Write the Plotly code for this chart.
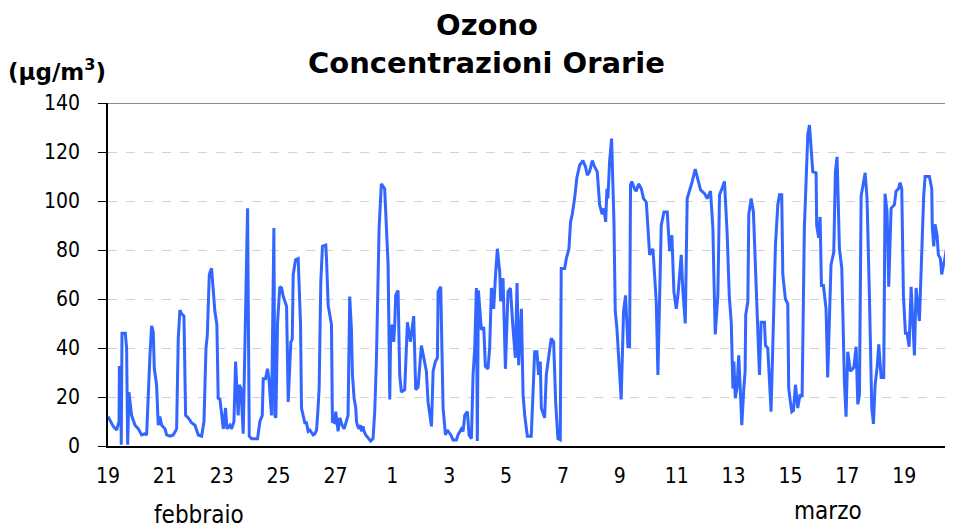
import datetime as dt
import plotly.graph_objects as go

# ---- data ----
start = dt.datetime(2009, 2, 19, 0, 0)

hours = [
    0, 4.5, 7.3, 9.3, 9.6, 10.7, 11.2, 11.8, 13.5, 14.6, 15.7, 16.6, 17.7, 19.9, 22.8, 25.6, 28.4, 31.2, 32.6, 34,
    35.4, 36.8, 38.2, 39.1, 41, 42.4, 43.8, 45.3, 48.1, 49.5, 52.3, 55.1, 57.9, 59.3, 60.7, 62.1, 64.1, 65.5, 67.7, 70.5,
    73.4, 76.2, 79, 81, 81.8, 82.7, 83.8, 84.6, 85.5, 87.4,
    90.2, 91.9, 92.5, 93, 94.5, 95.9, 97.3, 99.2, 100.4, 102.9, 104.3, 106.3, 107.7, 109.1, 109.9, 110.8, 112.2, 114.1,
    117.8, 119.2, 121.2, 124, 126.2, 128.2, 130.2, 131, 133, 134.6, 135.8, 138, 140, 140.8, 141.7, 143.1, 145, 146.5,
    147.9, 150.7, 152.1, 154.3, 155.5, 156.3, 158.3, 160.5, 162.5, 163.3, 164.7, 166.1, 167.5, 168.9, 170.3, 173.2, 174.6,
    176, 177.1, 178.2, 179.6, 181, 183.8, 184.4, 185.8, 188.6, 189.4, 191.4, 192.2, 194.2, 195.6, 197.6, 199.3, 201.2,
    202.6, 204, 205.4, 206.3, 207.7, 209.1, 209.7, 210.5, 211.6, 213, 213.9, 215.3, 216.1, 217.5, 220.3, 221.7, 223.7,
    225.1, 226.5, 228.8, 230.7, 233.5, 236.4, 237.8, 238.6, 240, 241.1, 242, 242.8, 244.8, 246.2, 247.6, 250.4, 252.7,
    255.2, 258, 259.7, 261.7, 264.5,
    268.7, 270.1, 273, 274.4, 276.3, 278, 278.6, 280.8, 282.8, 284.8, 286.4, 289.3, 291.2, 294, 295.4, 298.3, 299.7,
    301.1, 303.3, 304.7, 306.7, 308.1, 309.5, 310.9, 311.7, 312.6, 315.1, 317.1, 318.5, 320.7, 322.1, 323.6, 325.5,
    327.2, 328.6, 330.6, 331.4, 333.4, 335.4, 337.6, 339.6, 341.8, 343.8, 345.2, 346.6, 348.9, 350.3, 351.7, 353.9,
    357.2, 358.1, 360.1, 362, 363.4, 364.8, 365.7, 368.5, 369.9, 372.1, 374.1, 376.1, 377.8, 379.7, 381.7, 382.5,
    385.4, 386.8, 389, 390.4, 391.8, 393.8, 395.7, 398, 400.8, 403, 404.5, 406.4, 408.7, 410.6, 412.9, 414.9, 417.1,
    418.5, 420, 421.1, 421.9, 423.3, 425, 427, 428.1, 429.5, 433.1, 435.1, 436.8, 438.8, 440.2, 441, 442.1,
    444.4, 445.8, 447.8, 450.1, 452, 454.3, 455.7, 457.1, 459.9, 461.3, 462.7, 464.1, 465.5, 466.9, 469.2, 472, 474,
    475.9, 477.6, 479.6, 481, 483.8, 485.2, 487.2, 488.8, 490.8, 493.1, 495.6, 497.3, 500.1, 503.5, 505.7, 508.5,
    510.5, 511.3, 512.5, 514.7, 516.1, 518.1, 520.3, 522.6, 524.3, 526, 527.4,
    528.2, 529.4, 530.8, 532.3, 533.8, 534.9, 536.6, 537.7, 538.2, 540, 540.8, 542.8, 544.7, 546.4, 547.5, 549.8,
    551.2, 554, 554.9, 556.8, 559.6, 563.3, 565.3, 566.7, 568.6, 569.5, 571.7, 573.7, 574.5, 575.9, 577.1, 578.5,
    580.2, 582.1, 584.1, 585.8, 587.7, 590.6, 592, 594.8, 597.6, 598.1, 599.8, 601, 602.1, 603.8, 606, 607.4, 610.2,
    612.5, 613, 613.9, 615.3,
    616.2, 617.3, 619.3, 621.5, 622.9, 624.3, 626.6, 629.4, 631.4, 632.8, 634.2, 635, 635.6, 639, 640.6, 642.6, 644.6,
    646, 647.4, 649.1, 650.5, 652.5, 654.7, 655.8, 657.5, 658.9, 660.9, 663.7, 665.1, 667.1, 668.5, 669.9, 671.3, 673,
    674.4, 676.1, 677.8, 680.6, 682, 684.8, 686.7, 687.6, 688.4, 689.6, 693.2, 695.2, 695.7, 696.9, 698, 699.7, 700.8,
    702.5, 703.6, 705.3, 705.9, 707.8, 709.2, 710.1, 712.1,
]

ozone = [
    12, 8, 6.5, 10, 32, 32, 0.5, 46, 46, 46, 40, 0.5, 22, 12.5, 8.5, 7, 4.5, 5, 4.5, 25,
    37, 49, 46.5, 31.5, 25, 8.5, 12, 8.5, 7, 4.5, 4, 4.5, 7, 44, 55.5, 54, 53, 12.5, 11.5, 9.5,
    8.5, 4.5, 4, 10, 27.5, 40, 45, 56, 70, 72.5,
    55, 49.5, 37, 19.5, 19, 11.5, 7, 15.5, 7, 8.5, 7, 10, 34.5, 19.5, 12.5, 25, 23.5, 5,
    97, 4, 3, 3, 3, 10, 12.5, 27.5, 27.5, 31.5, 27.5, 12.5, 89, 12.5, 11.5, 50.5, 65, 64.5,
    61, 57, 18, 42.5, 43.5, 70, 76, 76.5, 49.5, 15.5, 12.5, 9.5, 9.5, 6, 6.5, 4.5, 5,
    6.5, 14, 23.5, 67, 81.5, 82, 76.5, 57.5, 49.5, 10, 9.5, 14, 6, 11.5, 8.5, 7, 10,
    12.5, 61, 48, 29, 19.5, 15.5, 10, 8.5, 7, 8.5, 6, 8, 6, 4.5, 3, 2, 3,
    14, 34.5, 89, 107, 105, 74, 19, 47.5, 49.5, 42.5, 49.5, 61.5, 63.5, 29, 22, 23, 50.5,
    42.5, 53, 23, 24, 41,
    30.5, 18, 8, 30.5, 34.5, 36, 63, 65, 15.5, 4.5, 6.5, 4.5, 2.5, 2.5, 4.5, 7, 6,
    12.5, 14, 4.5, 3, 29, 40, 64.5, 2, 63.5, 47.5, 48.5, 32.5, 31.5, 40, 64.5, 56,
    71, 80.5, 71, 59, 68.5, 31.5, 63, 64.5, 48, 36, 66.5, 33, 56, 21, 12.5, 4,
    4, 16.5, 38.5, 38.5, 29, 34.5, 15.5, 11.5, 29, 37, 44, 42.5, 18, 3, 2.5, 72.5,
    72.5, 76.5, 80.5, 91.5, 94.5, 101, 109.5, 114.5, 116.5, 114, 110.5, 112, 116.5, 114, 112, 98.5, 94.5,
    97, 91.5, 105, 101, 116, 125.5, 91.5, 55, 48, 19, 55, 61.5, 40.5, 40.5, 106.5, 108,
    105, 104, 107, 105, 101, 99.5, 89, 78, 80.5, 67, 59, 29, 61.5, 90, 95.5, 95.5, 79.5,
    86, 63, 56, 61.5, 78, 63, 50, 101, 104, 108, 113, 109.5, 104.5, 103, 101, 104,
    89, 70, 45.5, 61.5, 102.5, 105, 108, 86, 61.5, 50.5, 23.5,
    34.5, 19.5, 23.5, 37, 21, 8.5, 23.5, 30.5, 53.5, 59, 94.5, 101, 95.5, 70, 59, 29,
    50.5, 50.5, 41, 40, 14, 82, 98.5, 102.5, 102.5, 70, 60, 58, 23.5, 18, 14, 14.5,
    25, 15.5, 21, 20, 89, 127, 131, 112, 111.5, 90, 85, 93.5, 65.5, 65.5, 56, 28, 74,
    79, 99.5, 112, 118,
    102, 80.5, 72.5, 26, 12, 38.5, 30.5, 32, 40.5, 17, 21, 69.5, 102, 111.5, 101, 61.5, 15.5,
    9, 25, 32, 41.5, 28, 28, 103, 95.5, 65, 97, 98.5, 104, 105, 107.5, 105, 61.5, 46,
    46, 40.5, 65, 37, 64.5, 51, 82.5, 93, 102, 110, 110, 105, 89, 81.5, 90.5, 86, 78,
    76.5, 70, 74.5, 75.5, 81, 81.5, 86, 87.5,
]

tick_dates = ["2009-02-19", "2009-02-21", "2009-02-23", "2009-02-25", "2009-02-27",
              "2009-03-01", "2009-03-03", "2009-03-05", "2009-03-07", "2009-03-09",
              "2009-03-11", "2009-03-13", "2009-03-15", "2009-03-17", "2009-03-19"]
tick_labels = ["19", "21", "23", "25", "27", "1", "3", "5", "7", "9",
               "11", "13", "15", "17", "19"]
y_ticks = [0, 20, 40, 60, 80, 100, 120, 140]

times = [start + dt.timedelta(hours=h) for h in hours]

TICK_FONT = dict(family="DejaVu Sans Condensed, DejaVu Sans, sans-serif", size=21, color="#000000")

fig = go.Figure()
fig.add_trace(go.Scatter(
    x=times, y=ozone, mode="lines",
    line=dict(color="#3366FF", width=3),
    hoverinfo="x+y", showlegend=False,
))

# the page body has an 8px margin, so the margins compensate for it
fig.update_layout(
    width=953, height=529,
    margin=dict(l=100, r=9, t=95, b=91),
    paper_bgcolor="#FFFFFF", plot_bgcolor="#FFFFFF",
    showlegend=False,
    xaxis=dict(
        type="date",
        range=[start, start + dt.timedelta(hours=712.3)],
        tickmode="array", tickvals=tick_dates, ticktext=tick_labels,
        ticks="outside", ticklen=10, tickcolor="rgba(0,0,0,0)",
        tickfont=TICK_FONT,
        showgrid=False, zeroline=False,
        showline=True, linecolor="#000000", linewidth=2,
    ),
    yaxis=dict(
        range=[0, 140], tickmode="array", tickvals=y_ticks,
        ticks="outside", ticklen=8, tickcolor="#000000", tickwidth=1,
        ticklabelstandoff=14,
        tickfont=TICK_FONT,
        showgrid=True, gridcolor="#D3D3D3", griddash="dash", gridwidth=1,
        zeroline=False,
        showline=True, linecolor="#000000", linewidth=1.5,
    ),
)

# top border of the plot area (grey solid line at 140)
fig.add_shape(type="line", xref="paper", yref="y", x0=0, x1=1, y0=140, y1=140,
              line=dict(color="#8C8C8C", width=2))

TITLE_FONT = dict(family="DejaVu Sans, sans-serif", size=29, color="#000000")
fig.add_annotation(text="<b>Ozono</b>", xref="paper", yref="paper",
                   x=0.4485, y=1.228, showarrow=False, font=TITLE_FONT,
                   xanchor="center", yanchor="middle", borderpad=0)
fig.add_annotation(text="<b>Concentrazioni Orarie</b>", xref="paper", yref="paper",
                   x=0.4485, y=1.117, showarrow=False, font=TITLE_FONT,
                   xanchor="center", yanchor="middle", borderpad=0)
fig.add_annotation(text="<b>(μg/m<sup>3</sup>)</b>", xref="paper", yref="paper",
                   x=-0.0604, y=1.097, showarrow=False,
                   font=dict(family="DejaVu Sans, sans-serif", size=23, color="#000000"),
                   xanchor="center", yanchor="middle")

MONTH_FONT = dict(family="DejaVu Sans Condensed, DejaVu Sans, sans-serif", size=24, color="#000000")
fig.add_annotation(text="febbraio", xref="paper", yref="paper",
                   x=0.108, y=-0.2, showarrow=False, font=MONTH_FONT,
                   xanchor="center", yanchor="middle")
fig.add_annotation(text="marzo", xref="paper", yref="paper",
                   x=0.853, y=-0.19, showarrow=False, font=MONTH_FONT,
                   xanchor="center", yanchor="middle")

fig.write_html("out.html")
